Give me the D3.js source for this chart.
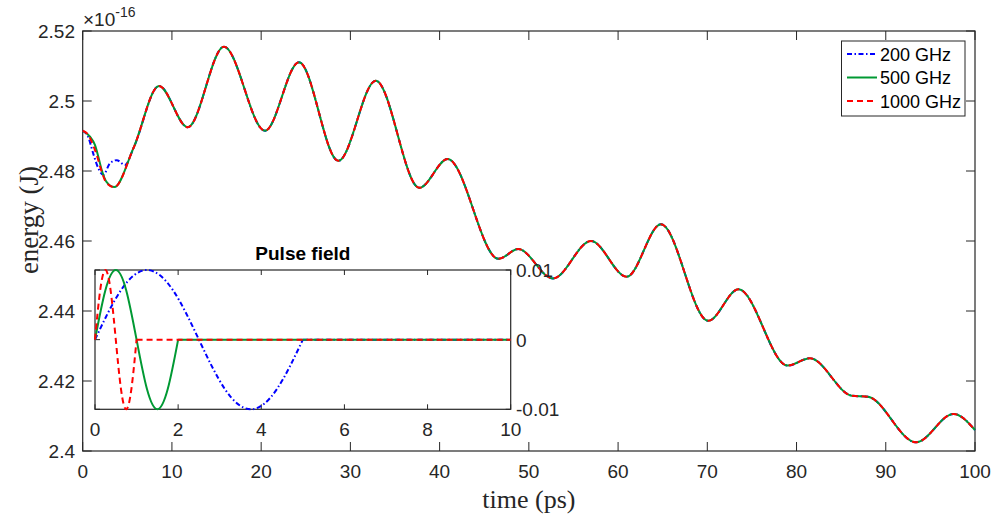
<!DOCTYPE html>
<html>
<head>
<meta charset="utf-8">
<script src="https://cdn.jsdelivr.net/npm/d3@7"></script>
<style>
  body { margin: 0; background: #fff; }
  svg { display: block; }
  .tick-label { font-family: "Liberation Sans", Arial, sans-serif; font-size: 19px; fill: #262626; }
  .axis-title { font-family: "Liberation Serif", "Times New Roman", serif; font-size: 26px; fill: #262626; }
  .legend-label { font-family: "Liberation Sans", Arial, sans-serif; font-size: 18px; fill: #000; }
  .inset-title { font-family: "Liberation Sans", Arial, sans-serif; font-size: 19px; font-weight: bold; fill: #000; }
</style>
</head>
<body>
<svg id="chart" width="1001" height="523"></svg>
<script>
/*
ENERGY VS TIME FOR THREE PULSE FREQUENCIES, WITH PULSE FIELD INSET
*/

// ---- data (energy in units of 1e-16 J, time in ps) ----
const seriesNames = ["200 GHz", "500 GHz", "1000 GHz"];
const seriesColors = ["#0000ff", "#009933", "#ff0000"];

// early part differs per frequency
const head200T = [0, 0.6, 1.19, 1.75, 2.31, 3.06, 3.81, 4.74];
const head200E = [2.4915, 2.4898, 2.4849, 2.4808, 2.4789, 2.4822, 2.4831, 2.4817];
const head500T = [0, 0.82, 1.38, 1.75, 2.13, 2.69, 3.54];
const head500E = [2.4915, 2.4898, 2.4874, 2.4841, 2.4803, 2.4768, 2.4754];
const head1000T = [0, 0.63, 1.0, 1.57, 2.13, 2.69, 3.54];
const head1000E = [2.4915, 2.4903, 2.4884, 2.4846, 2.4798, 2.4765, 2.4754];

// after ~5.7 ps all three curves coincide
const tailT = [5.7, 8.55, 11.77, 15.83, 20.43, 24.24, 28.65, 32.84, 37.73, 40.9,
  46.6, 48.8, 52.7, 56.97, 60.97, 64.8, 70.1, 73.5, 79.0, 81.5, 86.2, 88.0, 93.4, 97.6, 100];
const tailE = [2.4866, 2.5043, 2.4925, 2.5155, 2.4915, 2.5111, 2.4829, 2.5058, 2.4752, 2.4834,
  2.4549, 2.4577, 2.4493, 2.4600, 2.4498, 2.4648, 2.4372, 2.4462, 2.4244, 2.4265, 2.4158, 2.4155, 2.4025, 2.4106, 2.4060];

// pulse field (inset): one sine period, then zero
const pulse200T = [0, 0.625, 1.25, 1.875, 2.5, 3.125, 3.75, 4.375, 5, 10];
const pulse500T = [0, 0.25, 0.5, 0.75, 1, 1.25, 1.5, 1.75, 2, 10];
const pulse1000T = [0, 0.125, 0.25, 0.375, 0.5, 0.625, 0.75, 0.875, 1, 10];
const pulseField = [0, 0.0071, 0.01, 0.0071, 0, -0.0071, -0.01, -0.0071, 0, 0];

const xTicks = [0, 10, 20, 30, 40, 50, 60, 70, 80, 90, 100];
const yTicks = [2.4, 2.42, 2.44, 2.46, 2.48, 2.5, 2.52];
const insetXTicks = [0, 2, 4, 6, 8, 10];
const insetYTicks = [-0.01, 0, 0.01];

// ---- layout ----
const svg = d3.select("#chart");
const axisColor = "#262626";
const dashes = ["5,2.5,1.5,2.5", null, "6,4"];

const main = { left: 82.7, right: 975, top: 31, bottom: 451 };
const inset = { left: 95, right: 510.7, top: 270, bottom: 409.3 };

const x = d3.scaleLinear().domain([0, 100]).range([main.left, main.right]);
const y = d3.scaleLinear().domain([2.4, 2.52]).range([main.bottom, main.top]);
const ix = d3.scaleLinear().domain([0, 10]).range([inset.left, inset.right]);
const iy = d3.scaleLinear().domain([-0.01, 0.01]).range([inset.bottom, inset.top]);

function zip(ts, vs) {
  return ts.map((t, i) => [t, vs[i]]);
}

function drawBox(box, tickLen, xs, ys, xTickVals, yTickVals) {
  const g = svg.append("g");
  g.append("rect")
    .attr("x", box.left)
    .attr("y", box.top)
    .attr("width", box.right - box.left)
    .attr("height", box.bottom - box.top)
    .attr("fill", "none")
    .attr("stroke", axisColor)
    .attr("stroke-width", 1.2);

  // inward ticks on all four sides
  xTickVals.forEach((v) => {
    [[box.bottom, -tickLen], [box.top, tickLen]].forEach(([y0, d]) => {
      g.append("line")
        .attr("x1", xs(v)).attr("x2", xs(v))
        .attr("y1", y0).attr("y2", y0 + d)
        .attr("stroke", axisColor);
    });
  });
  yTickVals.forEach((v) => {
    [[box.left, tickLen], [box.right, -tickLen]].forEach(([x0, d]) => {
      g.append("line")
        .attr("x1", x0).attr("x2", x0 + d)
        .attr("y1", ys(v)).attr("y2", ys(v))
        .attr("stroke", axisColor);
    });
  });
  return g;
}

// ---- main axes ----
const mainBox = drawBox(main, 9, x, y, xTicks, yTicks);

mainBox.selectAll(".xl")
  .data(xTicks)
  .enter()
  .append("text")
  .attr("class", "tick-label")
  .attr("x", (d) => x(d))
  .attr("y", 478)
  .attr("text-anchor", "middle")
  .text((d) => d);

mainBox.selectAll(".yl")
  .data(yTicks)
  .enter()
  .append("text")
  .attr("class", "tick-label")
  .attr("x", 75)
  .attr("y", (d) => y(d) + 7)
  .attr("text-anchor", "end")
  .text((d) => d3.format("")(+d.toFixed(2)));

// exponent
const expo = svg.append("text").attr("class", "tick-label").attr("x", 83).attr("y", 26);
expo.append("tspan").text("\u00d710");
expo.append("tspan").attr("dy", -9).style("font-size", "14px").text("-16");

svg.append("text")
  .attr("class", "axis-title")
  .attr("x", (main.left + main.right) / 2)
  .attr("y", 508)
  .attr("text-anchor", "middle")
  .text("time (ps)");

svg.append("text")
  .attr("class", "axis-title")
  .attr("transform", "translate(38,220) rotate(-90)")
  .attr("text-anchor", "middle")
  .style("font-size", "27px")
  .text("energy (J)");

// ---- main curves ----
const curveLine = d3.line()
  .x((d) => x(d[0]))
  .y((d) => y(d[1]))
  .curve(d3.curveMonotoneX);

const tail = zip(tailT, tailE);
const mainData = [
  zip(head200T, head200E).concat(tail),
  zip(head500T, head500E).concat(tail),
  zip(head1000T, head1000E).concat(tail),
];

svg.append("g")
  .selectAll("path")
  .data(mainData)
  .enter()
  .append("path")
  .attr("d", curveLine)
  .attr("fill", "none")
  .attr("stroke", (d, i) => seriesColors[i])
  .attr("stroke-width", 2)
  .attr("stroke-dasharray", (d, i) => dashes[i]);

// ---- legend ----
const legend = svg.append("g");
legend.append("rect")
  .attr("x", 841.5).attr("y", 41)
  .attr("width", 123.5).attr("height", 75)
  .attr("fill", "#fff")
  .attr("stroke", axisColor)
  .attr("stroke-width", 1);

seriesNames.forEach((name, i) => {
  const ly = 54 + i * 23.5;
  legend.append("line")
    .attr("x1", 847).attr("x2", 877)
    .attr("y1", ly).attr("y2", ly)
    .attr("stroke", seriesColors[i])
    .attr("stroke-width", 2)
    .attr("stroke-dasharray", dashes[i]);
  legend.append("text")
    .attr("class", "legend-label")
    .attr("x", 880)
    .attr("y", ly + 6.5)
    .text(name);
});

// ---- inset: pulse field ----
svg.append("rect")
  .attr("x", inset.left).attr("y", inset.top)
  .attr("width", inset.right - inset.left)
  .attr("height", inset.bottom - inset.top)
  .attr("fill", "#fff");

const insetBox = drawBox(inset, 5, ix, iy, insetXTicks, insetYTicks);

insetBox.selectAll(".ixl")
  .data(insetXTicks)
  .enter()
  .append("text")
  .attr("class", "tick-label")
  .attr("x", (d) => ix(d))
  .attr("y", 436)
  .attr("text-anchor", "middle")
  .text((d) => d);

insetBox.selectAll(".iyl")
  .data(insetYTicks)
  .enter()
  .append("text")
  .attr("class", "tick-label")
  .attr("x", 516)
  .attr("y", (d) => iy(d) + 7)
  .text((d) => d);

svg.append("text")
  .attr("class", "inset-title")
  .attr("x", (inset.left + inset.right) / 2)
  .attr("y", 260)
  .attr("text-anchor", "middle")
  .text("Pulse field");

const sineLine = d3.line()
  .x((d) => ix(d[0]))
  .y((d) => iy(d[1]))
  .curve(d3.curveNatural);

const flatLine = d3.line()
  .x((d) => ix(d[0]))
  .y((d) => iy(d[1]));

const pulseData = [pulse200T, pulse500T, pulse1000T].map((ts) => zip(ts, pulseField));

const pulses = svg.append("g")
  .selectAll("g")
  .data(pulseData)
  .enter()
  .append("g")
  .attr("fill", "none")
  .attr("stroke", (d, i) => seriesColors[i])
  .attr("stroke-width", 2)
  .attr("stroke-dasharray", (d, i) => dashes[i]);

pulses.append("path").attr("d", (d) => sineLine(d.slice(0, d.length - 1)));
pulses.append("path").attr("d", (d) => flatLine(d.slice(d.length - 2)));
</script>
</body>
</html>
